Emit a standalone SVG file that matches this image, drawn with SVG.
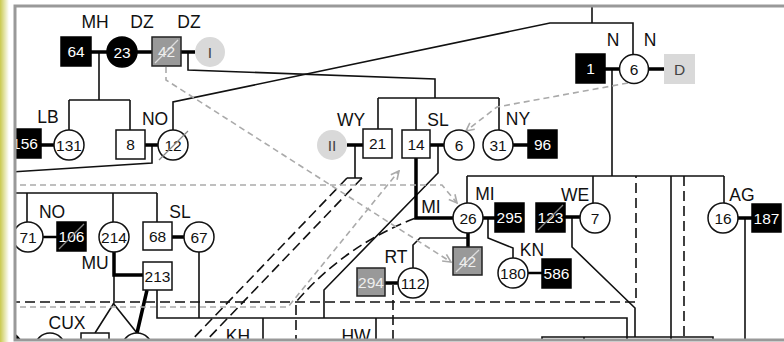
<svg xmlns="http://www.w3.org/2000/svg" width="784" height="342" viewBox="0 0 784 342">
<defs>
<style>
.t{fill:none;stroke:#111;stroke-width:1.6}
.k{fill:none;stroke:#000;stroke-width:3.5}
.bd{fill:none;stroke:#111;stroke-width:1.6;stroke-dasharray:10 5}
.gd{fill:none;stroke:#aaa;stroke-width:1.6;stroke-dasharray:6 4}
.w{fill:#fff;stroke:#111;stroke-width:1.5}
.b{fill:#000;stroke:#000;stroke-width:1.5}
.g{fill:#999;stroke:#222;stroke-width:1.5}
.lg{fill:#d9d9d9;stroke:none}
.num{font-family:"Liberation Sans",Arial,sans-serif;font-size:15.5px;text-anchor:middle}
.nw{fill:#fff}
.nk{fill:#111}
.ng{fill:#eee}
.nl{fill:#444}
.lab{font-family:"Liberation Sans",Arial,sans-serif;font-size:17.5px;text-anchor:middle;fill:#111}
.sl{stroke:#888;stroke-width:1.3}
.sll{stroke:#ddd;stroke-width:1.3}
</style>
<marker id="ga" viewBox="0 0 10 10" refX="9" refY="5" markerWidth="10" markerHeight="10" markerUnits="userSpaceOnUse" orient="auto">
<path d="M1,1 L9,5 L1,9" fill="none" stroke="#aaa" stroke-width="1.6"/>
</marker>
<clipPath id="clip"><rect x="15" y="6" width="775" height="334"/></clipPath>
<linearGradient id="strip" x1="0" y1="0" x2="1" y2="0">
<stop offset="0" stop-color="#c9c94e"/>
<stop offset="1" stop-color="#ffffff"/>
</linearGradient>
</defs>
<rect x="0" y="0" width="784" height="342" fill="#fff"/>
<rect x="0" y="0" width="9" height="342" fill="url(#strip)"/>
<g clip-path="url(#clip)">
<g id="connectors">
<path class="t" d="M99,52 V100 M69,100 H130 M69,100 V130 M130,100 V130"/>
<path class="t" d="M188,52 V70 L435,79 V98 M378,98 H499 M378,98 V129 M416,98 V130 M499,98 V130"/>
<path class="t" d="M173,130 V102 L550,23 H633 V54.5 M592,4 V23"/>
<path class="t" d="M152,145 V163 L10,172"/>
<path class="t" d="M612,69 V176 M467,176 H724 M467,176 V203 M593,176 V203 M671,176 V345 M724,176 V203"/>
<path class="t" d="M572,217 V247 L635,308 V337 M542,345 V337 H713 V345 M584,337 V345"/>
<path class="t" d="M745,218 V345"/>
<path class="t" d="M10,193 H157 M27,193 V222 M113,193 V222 M157,193 V222"/>
<path class="t" d="M114,275 V303 L95,333 M113,303 L137,333"/>
<path class="t" d="M157,290 V318 H627 V345 M199,252 V318"/>
<path class="t" d="M263,318 V345 M376,318 V345"/>
<path class="t" d="M355,145 V178 M347,178 H362"/>
<path class="t" d="M438,145 V173 L324,290 V318"/>
<path class="t" d="M488,218 V238 L513,248 V258"/>
<path class="t" d="M468,238 H420 L413,245 V268"/>
<path class="k" d="M91,52 H107 M137,52 H152 M181,52 H195 M41,145 H54 M145,145 H158 M347,145 H363 M430,145 H444 M513,145 H528 M605,69 H619.5 M648.5,69 H664 M172,237 H184 M416,158 V218 H453 M483,218 H495 M468,233 V247 M565,217 H580 M738,218 H752 M385,283 H398"/>
<path class="k" style="stroke-width:2.5" d="M43,237 H57 M528,273 H542"/>
<path class="k" d="M114,252 V275 H143 M147,290 L137,333"/>
<path class="bd" d="M10,302 H636 V176"/>
<path class="bd" d="M347,178 L187,345 M362,178 L202,345"/>
<path class="bd" d="M296,345 V302 Q345,245 416,218"/>
<path class="bd" d="M684,176 V345 M393,285 V345"/>
<path class="gd" marker-end="url(#ga)" d="M10,185 H442 L457,203"/>
<path class="gd" marker-end="url(#ga)" d="M10,307 H288 L399,171"/>
<path class="gd" marker-end="url(#ga)" d="M166,67 V80 L451,262"/>
<path class="gd" marker-end="url(#ga)" d="M628,83 L497,107 L466,131"/>
</g>
<g id="n64"><rect class="b" x="61" y="37" width="30" height="29"/><text class="num nw" x="76" y="57">64</text></g>
<g id="n23"><circle class="b" cx="122" cy="52" r="15"/><text class="num nw" x="122" y="57.5">23</text></g>
<g id="n42a"><rect class="g" x="152" y="37" width="29" height="29"/><line class="sll" x1="155" y1="63" x2="178" y2="40"/><text class="num ng" x="166.5" y="57">42</text></g>
<g id="nI"><circle class="lg" cx="210" cy="52" r="15"/><text class="num nl" x="210" y="57.5">I</text></g>
<g id="n156"><rect class="b" x="10" y="129" width="31" height="29"/><text class="num nw" x="25" y="149">156</text></g>
<g id="n131"><circle class="w" cx="69" cy="145" r="15"/><text class="num nk" x="69" y="150.5">131</text></g>
<g id="n8"><rect class="w" x="116" y="130" width="29" height="29"/><text class="num nk" x="130.5" y="150">8</text></g>
<g id="n12"><circle class="w" cx="173" cy="145" r="15"/><text class="num nk" x="173" y="150.5">12</text><line class="sl" x1="159" y1="160" x2="188" y2="131"/></g>
<g id="nII"><circle class="lg" cx="332" cy="145" r="15"/><text class="num nl" x="332" y="150.5">II</text></g>
<g id="n21"><rect class="w" x="363" y="129" width="29" height="29"/><text class="num nk" x="377.5" y="149">21</text></g>
<g id="n14"><rect class="w" x="402" y="130" width="28" height="28"/><text class="num nk" x="416" y="149.5">14</text></g>
<g id="n6sl"><circle class="w" cx="459" cy="145" r="15"/><text class="num nk" x="459" y="150.5">6</text></g>
<g id="n31"><circle class="w" cx="498" cy="145" r="15"/><text class="num nk" x="498" y="150.5">31</text></g>
<g id="n96"><rect class="b" x="528" y="130" width="29" height="28"/><text class="num nw" x="542.5" y="149.5">96</text></g>
<g id="n1"><rect class="b" x="576" y="54" width="29" height="29"/><text class="num nw" x="590.5" y="74">1</text></g>
<g id="n6n"><circle class="w" cx="634" cy="69" r="14.5"/><text class="num nk" x="634" y="74.5">6</text></g>
<g id="nD"><rect class="lg" x="664" y="54" width="31" height="30"/><text class="num nl" x="679.5" y="74.5">D</text></g>
<g id="n71"><circle class="w" cx="28" cy="237" r="15"/><text class="num nk" x="28" y="242.5">71</text></g>
<g id="n106"><rect class="b" x="57" y="222" width="29" height="29"/><text class="num nw" x="71.5" y="242">106</text><line class="sl" x1="59" y1="249" x2="84" y2="224"/></g>
<g id="n214"><circle class="w" cx="114" cy="237" r="15"/><text class="num nk" x="114" y="242.5">214</text></g>
<g id="n68"><rect class="w" x="143" y="222" width="29" height="28"/><text class="num nk" x="157.5" y="241.5">68</text></g>
<g id="n67"><circle class="w" cx="199" cy="237" r="15"/><text class="num nk" x="199" y="242.5">67</text></g>
<g id="n213"><rect class="w" x="143" y="262" width="29" height="28"/><text class="num nk" x="157.5" y="281.5">213</text></g>
<g id="n26"><circle class="w" cx="468" cy="218" r="15"/><text class="num nk" x="468" y="223.5">26</text></g>
<g id="n295"><rect class="b" x="495" y="203" width="29" height="29"/><text class="num nw" x="509.5" y="223">295</text></g>
<g id="n123"><rect class="b" x="536" y="203" width="29" height="29"/><text class="num nw" x="550.5" y="223">123</text><line class="sl" x1="538" y1="230" x2="563" y2="205"/></g>
<g id="n7"><circle class="w" cx="595" cy="218" r="15"/><text class="num nk" x="595" y="223.5">7</text></g>
<g id="n16"><circle class="w" cx="723" cy="218" r="15"/><text class="num nk" x="723" y="223.5">16</text></g>
<g id="n187"><rect class="b" x="752" y="204" width="29" height="28"/><text class="num nw" x="766.5" y="223.5">187</text></g>
<g id="n42b"><rect class="g" x="453" y="247" width="29" height="28"/><line class="sll" x1="456" y1="272" x2="479" y2="250"/><text class="num ng" x="467.5" y="266.5">42</text></g>
<g id="n294"><rect class="g" x="357" y="268" width="28" height="28"/><text class="num ng" x="371" y="287.5">294</text></g>
<g id="n112"><circle class="w" cx="413" cy="283" r="15"/><text class="num nk" x="413" y="288.5">112</text></g>
<g id="n180"><circle class="w" cx="513" cy="273" r="15"/><text class="num nk" x="513" y="278.5">180</text></g>
<g id="n586"><rect class="b" x="542" y="259" width="29" height="29"/><text class="num nw" x="556.5" y="279">586</text></g>
<g id="nb1"><circle class="w" cx="50" cy="348" r="15"/></g>
<g id="nb2"><rect class="w" x="81" y="333" width="28" height="28"/></g>
<g id="nb3"><circle class="w" cx="137" cy="348" r="15"/></g>
<g id="nb0"><circle class="b" cx="4" cy="350" r="19"/></g>
<g id="labels">
<text class="lab" x="95" y="28">MH</text>
<text class="lab" x="142" y="28">DZ</text>
<text class="lab" x="189" y="28">DZ</text>
<text class="lab" x="613" y="46">N</text>
<text class="lab" x="650" y="46">N</text>
<text class="lab" x="48" y="123">LB</text>
<text class="lab" x="155" y="125">NO</text>
<text class="lab" x="351" y="126">WY</text>
<text class="lab" x="438" y="126">SL</text>
<text class="lab" x="518" y="125">NY</text>
<text class="lab" x="52" y="218">NO</text>
<text class="lab" x="180" y="218">SL</text>
<text class="lab" x="95" y="269">MU</text>
<text class="lab" x="431" y="213">MI</text>
<text class="lab" x="485" y="200">MI</text>
<text class="lab" x="575" y="201">WE</text>
<text class="lab" x="742" y="201">AG</text>
<text class="lab" x="532" y="256">KN</text>
<text class="lab" x="396" y="263">RT</text>
<text class="lab" x="67" y="329">CUX</text>
<text class="lab" x="238" y="342">KH</text>
<text class="lab" x="356" y="342">HW</text>
</g>
</g>
<rect x="15" y="6" width="790" height="334" fill="none" stroke="#999" stroke-width="3"/>
</svg>
